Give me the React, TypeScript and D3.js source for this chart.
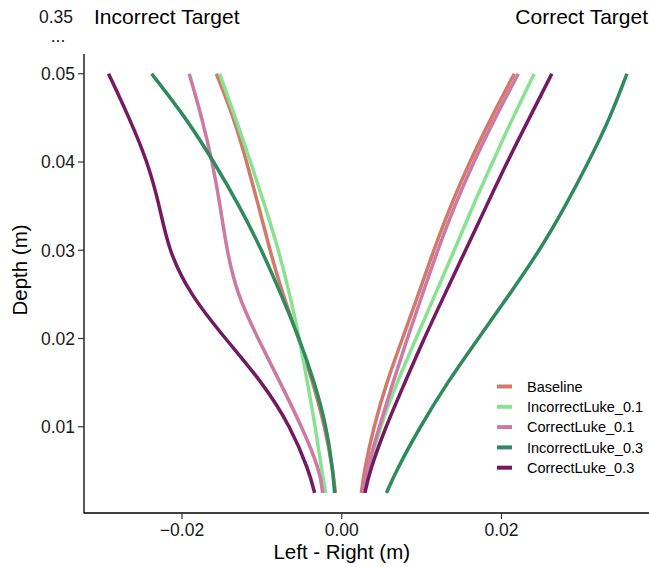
import React from "react";
import * as d3 from "d3";

const depths = [0.0025, 0.005, 0.01, 0.015, 0.02, 0.025, 0.03, 0.035, 0.04, 0.045, 0.05];

const seriesNames = ["Baseline", "IncorrectLuke_0.1", "CorrectLuke_0.1", "IncorrectLuke_0.3", "CorrectLuke_0.3"];
const seriesColors = ["#D27A6A", "#88E292", "#CE78A4", "#2F8A5E", "#741A63"];

// left branch (Incorrect target side)
const baselineLeft = [-0.0008, -0.0011, -0.0021, -0.0036, -0.0054, -0.0074, -0.009, -0.0104, -0.0119, -0.0135, -0.0157];
const incorrect01Left = [-0.002, -0.0025, -0.0033, -0.0043, -0.0053, -0.0065, -0.0079, -0.0096, -0.0114, -0.0133, -0.0153];
const correct01Left = [-0.0024, -0.0027, -0.005, -0.0077, -0.0105, -0.0131, -0.0144, -0.0152, -0.0162, -0.0175, -0.0191];
const incorrect03Left = [-0.0009, -0.0011, -0.0019, -0.0034, -0.0053, -0.0076, -0.01, -0.0128, -0.016, -0.0195, -0.0238];
const correct03Left = [-0.0034, -0.0041, -0.0064, -0.0099, -0.0146, -0.019, -0.0217, -0.0228, -0.0243, -0.0266, -0.0292];

// right branch (Correct target side)
const baselineRight = [0.00245, 0.0028, 0.004, 0.0056, 0.0076, 0.0096, 0.0115, 0.0136, 0.016, 0.0187, 0.0216];
const incorrect01Right = [0.0028, 0.0033, 0.0048, 0.0069, 0.0093, 0.0117, 0.0141, 0.0164, 0.0189, 0.0214, 0.0241];
const correct01Right = [0.0026, 0.0031, 0.0047, 0.0064, 0.0082, 0.0101, 0.012, 0.0141, 0.0165, 0.0192, 0.0221];
const incorrect03Right = [0.0056, 0.0068, 0.0098, 0.0132, 0.0171, 0.021, 0.0248, 0.028, 0.0309, 0.0336, 0.0357];
const correct03Right = [0.0029, 0.0035, 0.0055, 0.0079, 0.0103, 0.0129, 0.0155, 0.0181, 0.0207, 0.0235, 0.0263];

const leftSeries = [baselineLeft, incorrect01Left, correct01Left, incorrect03Left, correct03Left];
const rightSeries = [baselineRight, incorrect01Right, correct01Right, incorrect03Right, correct03Right];

const xTicks = [-0.02, 0.0, 0.02];
const yTicks = [0.01, 0.02, 0.03, 0.04, 0.05];

const W = 649;
const H = 567;
const FONT = "'Liberation Sans', Arial, sans-serif";

export default function App() {
  const axisLeft = 84;
  const axisBottom = 513;
  const axisTop = 54;
  const x = d3.scaleLinear().domain([-0.02, 0.02]).range([182, 501.5]);
  const y = d3.scaleLinear().domain([0.01, 0.05]).range([426.75, 73.75]);

  const line = d3
    .line<[number, number]>()
    .x((p) => x(p[0]))
    .y((p) => y(p[1]))
    .curve(d3.curveBasis);

  const paths: { d: string; color: string }[] = [];
  seriesNames.forEach((_, i) => {
    [leftSeries[i], rightSeries[i]].forEach((vals) => {
      const pts = vals.map((v, j) => [v, depths[j]] as [number, number]);
      paths.push({ d: line(pts) || "", color: seriesColors[i] });
    });
  });

  const legendX = 497;
  const legendY0 = 386.5;
  const legendDy = 20.3;

  return (
    <svg
      width={W}
      height={H}
      style={{ position: "absolute", left: 0, top: 0, background: "#fff" }}
      fontFamily={FONT}
    >
      <rect x={0} y={0} width={W} height={H} fill="#fff" />
      {/* axes */}
      <line x1={axisLeft} x2={axisLeft} y1={axisTop} y2={axisBottom + 0.5} stroke="#000" strokeWidth={1.3} />
      <line x1={axisLeft} x2={W} y1={axisBottom} y2={axisBottom} stroke="#000" strokeWidth={1.3} />
      {yTicks.map((t) => (
        <g key={"y" + t}>
          <line x1={axisLeft - 6} x2={axisLeft} y1={y(t)} y2={y(t)} stroke="#333" strokeWidth={1.2} />
          <text x={axisLeft - 9} y={y(t)} dy="0.36em" textAnchor="end" fontSize={17.5} fill="#1a1a1a">
            {d3.format(".2f")(t)}
          </text>
        </g>
      ))}
      {xTicks.map((t) => (
        <g key={"x" + t}>
          <line x1={x(t)} x2={x(t)} y1={axisBottom} y2={axisBottom + 6} stroke="#333" strokeWidth={1.2} />
          <text x={x(t)} y={536} textAnchor="middle" fontSize={17.5} fill="#1a1a1a">
            {d3.format(".2f")(t)}
          </text>
        </g>
      ))}
      <text x={x(0)} y={559} textAnchor="middle" fontSize={20.5} fill="#000">
        Left - Right (m)
      </text>
      <text transform={`translate(27,270) rotate(-90)`} textAnchor="middle" fontSize={20.5} fill="#000">
        Depth (m)
      </text>

      {/* titles */}
      <text x={39} y={23} fontSize={17.5} fill="#1a1a1a">0.35</text>
      <text x={58} y={41.5} textAnchor="middle" fontSize={17.5} fill="#1a1a1a">...</text>
      <text x={94} y={24} fontSize={21} fill="#000">Incorrect Target</text>
      <text x={648} y={24} textAnchor="end" fontSize={21} fill="#000">Correct Target</text>

      {/* lines */}
      {paths.map((p, i) => (
        <path key={i} d={p.d} fill="none" stroke={p.color} strokeWidth={3.5} />
      ))}

      {/* legend */}
      {seriesNames.map((n, i) => (
        <g key={n} transform={`translate(${legendX},${legendY0 + i * legendDy})`}>
          <line x1={0} x2={15} y1={0} y2={0} stroke={seriesColors[i]} strokeWidth={4} />
          <text x={30} y={0} dy="0.36em" fontSize={14.5} fill="#000">
            {n}
          </text>
        </g>
      ))}
    </svg>
  );
}
